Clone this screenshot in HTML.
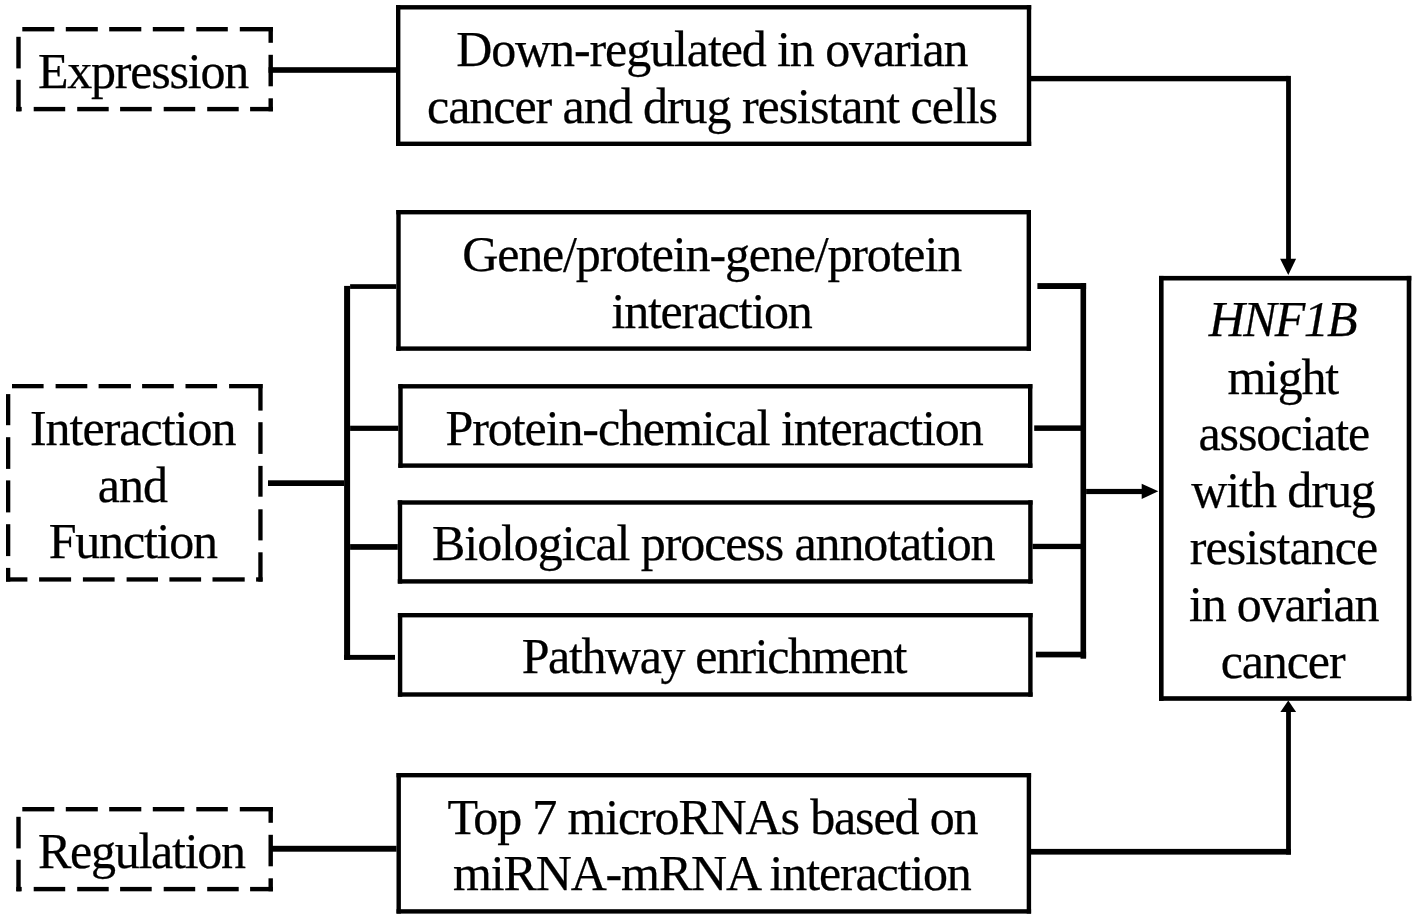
<!DOCTYPE html>
<html><head><meta charset="utf-8"><style>
html,body{margin:0;padding:0;background:#fff;width:1417px;height:920px;overflow:hidden}
svg{display:block}
text{font-family:"Liberation Serif",serif;font-size:50px;fill:#000;stroke:#000;stroke-width:0.25px}
</style></head><body>
<svg width="1417" height="920" viewBox="0 0 1417 920">
<rect x="0" y="0" width="1417" height="920" fill="#fff"/>
<g fill="#000">
<rect x="22.30" y="27.00" width="32.00" height="4.40"/>
<rect x="65.80" y="27.00" width="32.00" height="4.40"/>
<rect x="109.20" y="27.00" width="32.10" height="4.40"/>
<rect x="152.80" y="27.00" width="31.50" height="4.40"/>
<rect x="196.30" y="27.00" width="31.50" height="4.40"/>
<rect x="239.80" y="27.00" width="33.10" height="4.40"/>
<rect x="16.30" y="106.90" width="5.40" height="4.40"/>
<rect x="33.70" y="106.90" width="31.50" height="4.40"/>
<rect x="77.20" y="106.90" width="31.50" height="4.40"/>
<rect x="120.10" y="106.90" width="31.60" height="4.40"/>
<rect x="163.70" y="106.90" width="31.50" height="4.40"/>
<rect x="207.20" y="106.90" width="31.50" height="4.40"/>
<rect x="250.10" y="106.90" width="22.80" height="4.40"/>
<rect x="16.30" y="36.80" width="4.40" height="31.60"/>
<rect x="16.30" y="79.80" width="4.40" height="31.50"/>
<rect x="268.50" y="27.00" width="4.40" height="15.80"/>
<rect x="268.50" y="54.80" width="4.40" height="31.50"/>
<rect x="268.50" y="98.30" width="4.40" height="13.00"/>
<rect x="22.30" y="807.00" width="32.00" height="4.40"/>
<rect x="65.80" y="807.00" width="32.00" height="4.40"/>
<rect x="109.20" y="807.00" width="32.10" height="4.40"/>
<rect x="152.80" y="807.00" width="31.50" height="4.40"/>
<rect x="196.30" y="807.00" width="31.50" height="4.40"/>
<rect x="239.80" y="807.00" width="33.10" height="4.40"/>
<rect x="16.30" y="886.90" width="5.40" height="4.40"/>
<rect x="33.70" y="886.90" width="31.50" height="4.40"/>
<rect x="77.20" y="886.90" width="31.50" height="4.40"/>
<rect x="120.10" y="886.90" width="31.60" height="4.40"/>
<rect x="163.70" y="886.90" width="31.50" height="4.40"/>
<rect x="207.20" y="886.90" width="31.50" height="4.40"/>
<rect x="250.10" y="886.90" width="22.80" height="4.40"/>
<rect x="16.30" y="816.80" width="4.40" height="31.60"/>
<rect x="16.30" y="859.80" width="4.40" height="31.50"/>
<rect x="268.50" y="807.00" width="4.40" height="15.80"/>
<rect x="268.50" y="834.80" width="4.40" height="31.50"/>
<rect x="268.50" y="878.30" width="4.40" height="13.00"/>
<rect x="12.00" y="384.00" width="31.60" height="4.30"/>
<rect x="55.60" y="384.00" width="31.70" height="4.30"/>
<rect x="98.60" y="384.00" width="32.30" height="4.30"/>
<rect x="142.10" y="384.00" width="31.70" height="4.30"/>
<rect x="185.50" y="384.00" width="31.60" height="4.30"/>
<rect x="229.10" y="384.00" width="33.50" height="4.30"/>
<rect x="6.00" y="577.30" width="21.40" height="4.30"/>
<rect x="39.10" y="577.30" width="32.00" height="4.30"/>
<rect x="82.90" y="577.30" width="31.70" height="4.30"/>
<rect x="126.60" y="577.30" width="31.40" height="4.30"/>
<rect x="169.40" y="577.30" width="31.70" height="4.30"/>
<rect x="212.50" y="577.30" width="32.20" height="4.30"/>
<rect x="256.10" y="577.30" width="6.50" height="4.30"/>
<rect x="6.00" y="394.10" width="4.30" height="31.10"/>
<rect x="6.00" y="437.20" width="4.30" height="31.70"/>
<rect x="6.00" y="480.40" width="4.30" height="32.00"/>
<rect x="6.00" y="524.20" width="4.30" height="31.90"/>
<rect x="6.00" y="567.90" width="4.30" height="13.70"/>
<rect x="258.30" y="384.00" width="4.30" height="26.60"/>
<rect x="258.30" y="422.20" width="4.30" height="31.70"/>
<rect x="258.30" y="465.90" width="4.30" height="30.80"/>
<rect x="258.30" y="509.30" width="4.30" height="31.10"/>
<rect x="258.30" y="552.30" width="4.30" height="29.30"/>
<rect x="396.00" y="5.10" width="635.20" height="4.40"/>
<rect x="396.00" y="141.60" width="635.20" height="4.40"/>
<rect x="396.00" y="5.10" width="4.40" height="140.90"/>
<rect x="1026.80" y="5.10" width="4.40" height="140.90"/>
<rect x="396.30" y="210.00" width="634.70" height="4.40"/>
<rect x="396.30" y="346.40" width="634.70" height="4.40"/>
<rect x="396.30" y="210.00" width="4.40" height="140.80"/>
<rect x="1026.60" y="210.00" width="4.40" height="140.80"/>
<rect x="398.30" y="384.10" width="634.10" height="4.40"/>
<rect x="398.30" y="463.40" width="634.10" height="4.40"/>
<rect x="398.30" y="384.10" width="4.40" height="83.70"/>
<rect x="1028.00" y="384.10" width="4.40" height="83.70"/>
<rect x="397.80" y="500.30" width="634.80" height="4.40"/>
<rect x="397.80" y="579.20" width="634.80" height="4.40"/>
<rect x="397.80" y="500.30" width="4.40" height="83.30"/>
<rect x="1028.20" y="500.30" width="4.40" height="83.30"/>
<rect x="397.90" y="613.00" width="634.70" height="4.40"/>
<rect x="397.90" y="692.30" width="634.70" height="4.40"/>
<rect x="397.90" y="613.00" width="4.40" height="83.70"/>
<rect x="1028.20" y="613.00" width="4.40" height="83.70"/>
<rect x="396.50" y="773.00" width="634.60" height="4.40"/>
<rect x="396.50" y="909.20" width="634.60" height="4.40"/>
<rect x="396.50" y="773.00" width="4.40" height="140.60"/>
<rect x="1026.70" y="773.00" width="4.40" height="140.60"/>
<rect x="1159.00" y="275.90" width="252.30" height="4.60"/>
<rect x="1159.00" y="696.20" width="252.30" height="4.60"/>
<rect x="1159.00" y="275.90" width="4.60" height="424.90"/>
<rect x="1406.70" y="275.90" width="4.60" height="424.90"/>
<rect x="268.50" y="67.20" width="127.50" height="5.60"/>
<rect x="1031.00" y="75.90" width="257.50" height="5.40"/>
<rect x="1286.10" y="75.90" width="4.80" height="183.60"/>
<polygon points="1280.10,258.75 1296.10,258.75 1288.30,275.00"/>
<rect x="268.00" y="480.30" width="76.10" height="5.70"/>
<rect x="344.10" y="285.90" width="6.00" height="373.90"/>
<rect x="350.10" y="284.20" width="46.20" height="4.70"/>
<rect x="350.10" y="425.70" width="48.20" height="5.20"/>
<rect x="350.10" y="544.10" width="47.70" height="5.70"/>
<rect x="344.10" y="654.90" width="50.90" height="4.90"/>
<rect x="1080.50" y="283.10" width="5.60" height="375.60"/>
<rect x="1037.40" y="283.10" width="48.70" height="5.90"/>
<rect x="1034.20" y="425.40" width="46.80" height="5.50"/>
<rect x="1032.60" y="543.80" width="48.40" height="5.30"/>
<rect x="1035.90" y="651.70" width="50.20" height="5.70"/>
<rect x="1086.10" y="488.90" width="56.40" height="5.20"/>
<polygon points="1141.70,483.70 1141.70,498.90 1158.30,491.30"/>
<rect x="269.80" y="845.80" width="126.70" height="5.90"/>
<rect x="1031.00" y="848.90" width="259.90" height="5.70"/>
<rect x="1286.10" y="711.50" width="4.80" height="143.10"/>
<polygon points="1280.40,712.00 1296.10,712.00 1288.30,700.40"/>
</g>
<g>
<text x="37.9" y="88" letter-spacing="-1.2">Expression</text>
<text x="456.2" y="66.1" letter-spacing="-1.1">Down-regulated in ovarian</text>
<text x="427.0" y="122.8" letter-spacing="-1.05">cancer and drug resistant cells</text>
<text x="462.2" y="271" letter-spacing="-1.15">Gene/protein-gene/protein</text>
<text x="611.5" y="327.6" letter-spacing="-1.25">interaction</text>
<text x="445.6" y="444.6" letter-spacing="-1.1">Protein-chemical interaction</text>
<text x="432.1" y="560" letter-spacing="-1.1">Biological process annotation</text>
<text x="521.7" y="672.8" letter-spacing="-1.4">Pathway enrichment</text>
<text x="447.4" y="833.8" letter-spacing="-1.15">Top 7 microRNAs based on</text>
<text x="453.0" y="890.4" letter-spacing="-1.15">miRNA-mRNA interaction</text>
<text x="29.9" y="444.7" letter-spacing="-1.0">Interaction</text>
<text x="97.8" y="501.6" letter-spacing="-1.0">and</text>
<text x="48.7" y="558.3" letter-spacing="-1.2">Function</text>
<text x="37.9" y="867.8" letter-spacing="-1.25">Regulation</text>
<text x="1208.8" y="336.4" letter-spacing="-1.7" font-style="italic">HNF1B</text>
<text x="1227.4" y="393.5" letter-spacing="-1.2">might</text>
<text x="1198.5" y="450.3" letter-spacing="-1.1">associate</text>
<text x="1191.2" y="507.4" letter-spacing="-1.05">with drug</text>
<text x="1189.7" y="563.8" letter-spacing="-0.95">resistance</text>
<text x="1189.0" y="620.8" letter-spacing="-1.2">in ovarian</text>
<text x="1220.7" y="677.7" letter-spacing="-1.1">cancer</text>
</g>
</svg>
</body></html>
